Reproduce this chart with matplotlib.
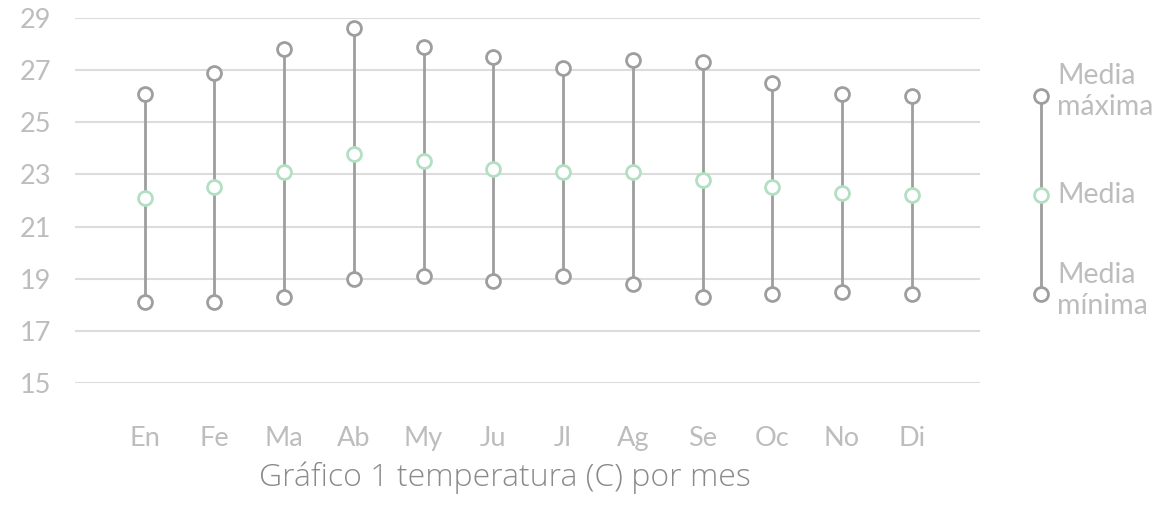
import matplotlib.pyplot as plt

months = ["En", "Fe", "Ma", "Ab", "My", "Ju", "Jl", "Ag", "Se", "Oc", "No", "Di"]
t_max = [26.1, 26.9, 27.8, 28.6, 27.9, 27.5, 27.1, 27.4, 27.3, 26.5, 26.1, 26.0]
t_mean = [22.1, 22.5, 23.1, 23.8, 23.5, 23.2, 23.1, 23.1, 22.8, 22.5, 22.3, 22.2]
t_min = [18.1, 18.1, 18.3, 19.0, 19.1, 18.9, 19.1, 18.8, 18.3, 18.4, 18.5, 18.4]
y_ticks = [15, 17, 19, 21, 23, 25, 27, 29]

gray = "#9e9e9e"
green = "#b3dfc3"
light = "#bdbdbd"
grid_c = "#dcdcdc"

plt.rcParams['font.family'] = ['Lato', 'DejaVu Sans']

W, H = 1158, 505
fig = plt.figure(figsize=(W / 100, H / 100), dpi=100)
ax = fig.add_axes([75 / W, 1 - 383 / H, (980 - 75) / W, (383 - 18) / H])

x = list(range(len(months)))
ax.vlines(x, t_min, t_max, color=gray, lw=2, zorder=2)
mk = dict(marker='o', ms=10, mew=2, mfc='white', ls='none', zorder=3)
ax.plot(x, t_max, mec=gray, **mk)
ax.plot(x, t_min, mec=gray, **mk)
ax.plot(x, t_mean, mec=green, **mk)

ax.set_xlim(-1, 11.98)
ax.set_ylim(15, 29)
ax.set_yticks(y_ticks)
ax.set_xticks(x)
ax.set_xticklabels(months)
ax.grid(axis='y', color=grid_c, lw=1.5)
ax.set_axisbelow(True)
for s in ax.spines.values():
    s.set_visible(False)
ax.tick_params(axis='both', length=0, labelcolor=light, labelsize=19.5)
ax.tick_params(axis='x', pad=31)
for lab in ax.get_yticklabels():
    lab.set_horizontalalignment('left')
    lab.set_x(-55 / (980 - 75))
ax.tick_params(axis='y', pad=0)

fig.text(505 / W, 1 - 478 / H, "Gráfico 1 temperatura (C) por mes",
         ha='center', va='center', color="#8a8a8a", fontsize=23,
         family=['Open Sans', 'DejaVu Sans'], fontweight='light')

# legend
lg = fig.add_axes([0, 0, 1, 1], facecolor='none')
lg.set_xlim(0, W)
lg.set_ylim(H, 0)
lg.axis('off')
lg.plot([1041, 1041], [96, 294], color=gray, lw=2, zorder=2)
lg.plot([1041], [96], mec=gray, **mk)
lg.plot([1041], [294], mec=gray, **mk)
lg.plot([1041], [195], mec=green, **mk)
lg.text(1057, 63, "Media\nmáxima", ha='left', va='top', color=light, fontsize=20.5, linespacing=1.25)
lg.text(1057, 195, "Media", ha='left', va='center', color=light, fontsize=20.5)
lg.text(1057, 262, "Media\nmínima", ha='left', va='top', color=light, fontsize=20.5, linespacing=1.25)

fig.savefig("out.png", dpi=100)
